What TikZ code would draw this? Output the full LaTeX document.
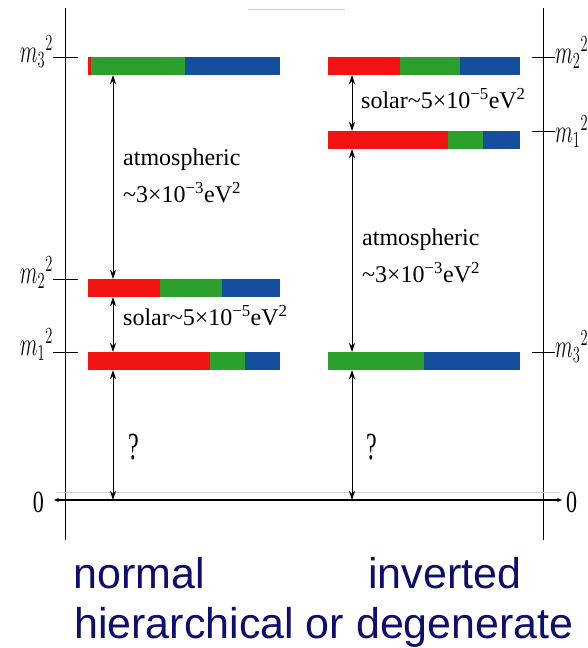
\documentclass[tikz,border=0pt]{standalone}
\usepackage{graphicx}
\usepackage{fontspec}
\setmainfont{Liberation Serif}
\setsansfont{Liberation Sans}
\usetikzlibrary{positioning, arrows.meta}

\definecolor{barred}{RGB}{242,18,18}
\definecolor{bargreen}{RGB}{44,160,44}
\definecolor{barblue}{RGB}{22,78,158}
\definecolor{capblue}{RGB}{14,14,108}

% m_i^2 label, drawn tall as in the figure
\newcommand{\msq}[1]{\scalebox{1}[1.6]{$m_{#1}{}^{2}$}}
% splitting in eV^2
\newcommand{\evsq}[2]{\textasciitilde#1\texttimes10\textsuperscript{−#2}eV\textsuperscript{2}}
% one coloured level: name, centre, red width, green width
\newcommand{\massbar}[4]{%
    \node[level] (#1) at (#2) {};
    \fill[barred] (#1.north west) rectangle ([xshift=#3]#1.south west);
    \fill[bargreen] ([xshift=#3]#1.north west) rectangle ([xshift=#3+#4]#1.south west);
    \fill[barblue] ([xshift=#3+#4]#1.north west) rectangle (#1.south east);
}

\begin{document}
\begin{tikzpicture}[x=1pt, y=-1pt,
    level/.style={minimum width=192pt, minimum height=18pt, inner sep=0pt, outer sep=0pt},
    gap/.style={{Stealth[length=9pt,width=6pt]}-{Stealth[length=9pt,width=6pt]}, line width=1pt},
    mlabel/.style={font=\fontsize{22}{24}\selectfont, inner sep=0pt},
    note/.style={font=\fontsize{24}{37}\selectfont, align=left, inner sep=0pt},
    caption/.style={font=\sffamily\fontsize{43}{46}\selectfont, text=capblue, inner sep=0pt}]
    \useasboundingbox (0,0) rectangle (588,648);

    % axes
    \coordinate (lax) at (65,0);
    \coordinate (rax) at (543,0);
    \coordinate (zl) at (54,500);
    \coordinate (zr) at (562,500);
    \draw[line width=1pt] (65,8) -- (65,540);
    \draw[line width=1pt] (543,8) -- (543,540);
    \draw[gray!40, line width=0.8pt] (248,9) -- (345,9);
    \draw[gray!35, line width=0.8pt] (56,492) -- (560,492);
    \draw[line width=1.2pt, {Stealth[length=5pt,width=4pt]}-{Stealth[length=5pt,width=4pt]}] (zl) -- (zr);

    % normal ordering
    \massbar{nh3}{184,66}{3pt}{94pt}
    \massbar{nh2}{184,288}{72pt}{62pt}
    \massbar{nh1}{184,361}{122pt}{35pt}
    % inverted ordering
    \massbar{ih2}{424,66}{72pt}{60pt}
    \massbar{ih1}{424,140}{120pt}{35pt}
    \massbar{ih3}{424,361}{0pt}{96pt}

    % ticks and labels
    \foreach \b in {nh3,nh2,nh1}
    {
        \draw[line width=1pt] (lax |- \b.north) ++(-12,0) -- ++(25,0);
    }
    \foreach \b in {ih2,ih1,ih3}
    {
        \draw[line width=1pt] (rax |- \b.north) ++(-11,0) -- ++(23,0);
    }
    \node[mlabel, anchor=east] (lm3) at (53,52) {\msq{3}};
    \node[mlabel, anchor=east] (lm2) at (53,273) {\msq{2}};
    \node[mlabel, anchor=east] (lm1) at (53,345) {\msq{1}};
    \node[mlabel, anchor=west] (rm2) at (555,53) {\msq{2}};
    \node[mlabel, anchor=west] (rm1) at (555,132) {\msq{1}};
    \node[mlabel, anchor=west] (rm3) at (555,347) {\msq{3}};
    \node[mlabel, anchor=east] (lz) at (44,502) {\scalebox{1}[1.4]{0}};
    \node[mlabel, anchor=west] (rz) at (566,502) {\scalebox{1}[1.4]{0}};

    % splittings
    \coordinate (lx) at (113,0);
    \coordinate (rx) at (352,0);
    \draw[gap] (lx |- nh3.south) -- (lx |- nh2.north);
    \draw[gap] (lx |- nh2.south) -- (lx |- nh1.north);
    \draw[gap] (lx |- nh1.south) -- (lx |- zl);
    \draw[gap] (rx |- ih2.south) -- (rx |- ih1.north);
    \draw[gap] (rx |- ih1.south) -- (rx |- ih3.north);
    \draw[gap] (rx |- ih3.south) -- (rx |- zl);

    \node[note, anchor=west] (natm) at (123,176) {atmospheric\\\evsq{3}{3}};
    \node[note, anchor=west] (nsol) at (123,316) {solar\evsq{5}{5}};
    \node[note, anchor=west] (nq) at (128,447) {\scalebox{1}[1.6]{?}};
    \node[note, anchor=west] (iatm) at (362,256) {atmospheric\\\evsq{3}{3}};
    \node[note, anchor=west] (isol) at (361,99) {solar\evsq{5}{5}};
    \node[note, anchor=west] (iq) at (366,447) {\scalebox{1}[1.6]{?}};

    % captions
    \node[caption, anchor=base west] (cn) at (73,588) {normal};
    \node[caption, anchor=base west] (ci) at (368,588) {inverted};
    \node[caption, anchor=base west] (ch) at (74,638) {hierarchical or degenerate};
\end{tikzpicture}
\end{document}
